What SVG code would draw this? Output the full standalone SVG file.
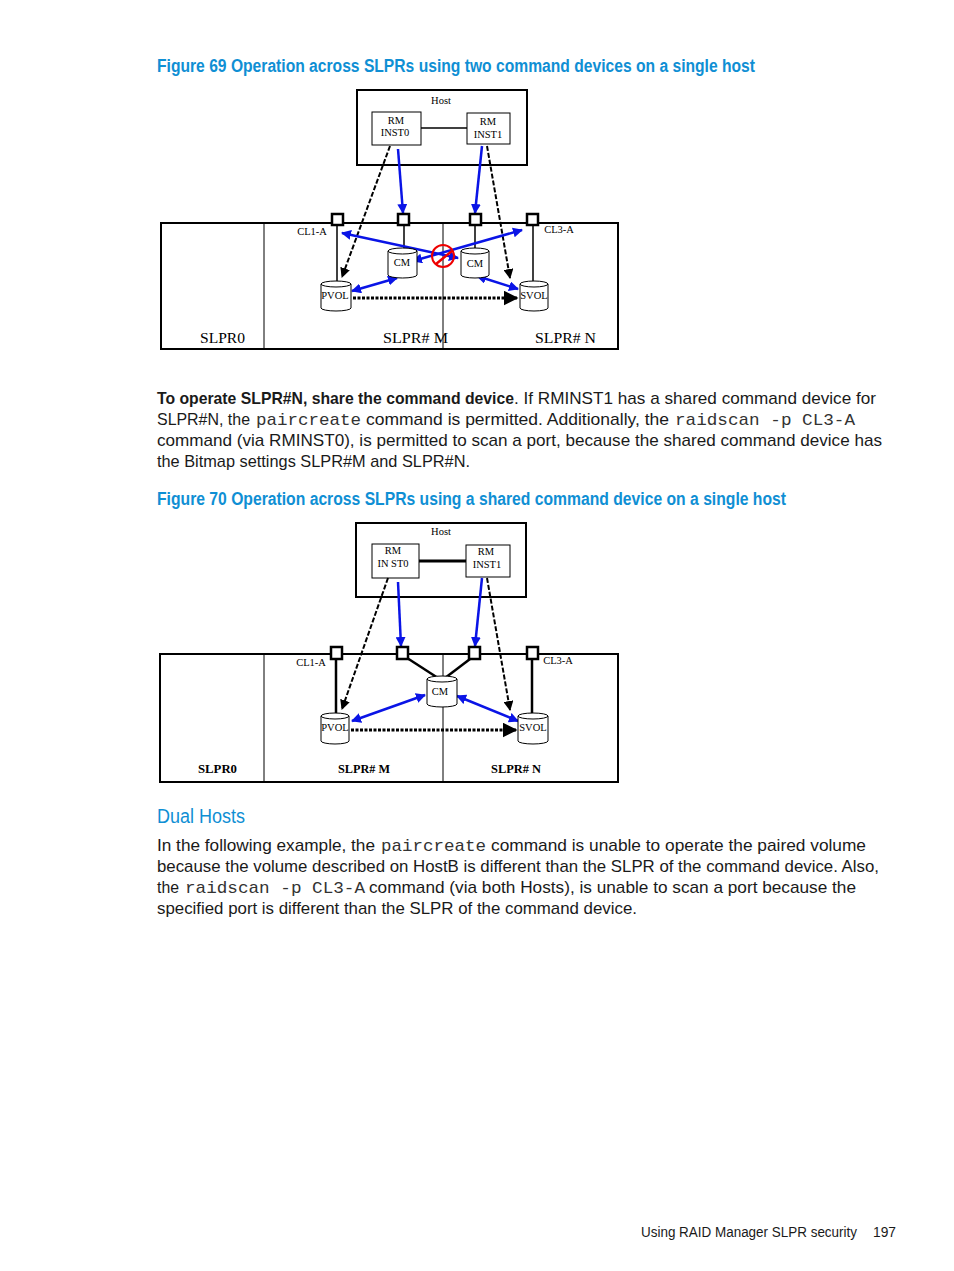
<svg xmlns="http://www.w3.org/2000/svg" width="954" height="1271" viewBox="0 0 954 1271">
<defs>
<style>
.cap{font-family:"Liberation Sans",Arial,sans-serif;font-weight:bold;font-size:18px;fill:#0f8fd4}
.body{font-family:"Liberation Sans",Arial,sans-serif;font-size:17px;fill:#1a1a1a}
.bodyb{font-family:"Liberation Sans",Arial,sans-serif;font-size:17px;font-weight:bold;fill:#1a1a1a}
.mono{font-family:"Liberation Mono","Courier New",monospace;font-size:17px;fill:#333}
.h2{font-family:"Liberation Sans",Arial,sans-serif;font-size:20px;fill:#0f8fd4}
.foot{font-family:"Liberation Sans",Arial,sans-serif;font-size:14px;fill:#1a1a1a}
.s{font-family:"Liberation Serif","Times New Roman",serif;font-size:10.5px;fill:#000;text-anchor:middle}
.sl{font-family:"Liberation Serif","Times New Roman",serif;font-size:15px;fill:#000}
.sl2{font-family:"Liberation Serif","Times New Roman",serif;font-size:12px;font-weight:bold;fill:#000}
.box{fill:#fff;stroke:#000;stroke-width:1}
.hostbox{fill:none;stroke:#000;stroke-width:2}
.frame{fill:none;stroke:#000;stroke-width:2}
.div{stroke:#000;stroke-width:1}
.port{fill:#fff;stroke:#000;stroke-width:2.5}
.cyl{fill:#fff;stroke:#000;stroke-width:1}
.blue{stroke:#0a14e6;stroke-width:2.5;fill:none}
.dash{stroke:#000;stroke-width:2;stroke-dasharray:5 2;fill:none}
.dot{stroke:#000;stroke-width:3;stroke-dasharray:3 1.5;fill:none}
.stem{stroke:#000;stroke-width:1.5}
.stem2{stroke:#000;stroke-width:2.5}
</style>
<marker id="ab" viewBox="0 0 10 10" refX="9" refY="5" markerWidth="4" markerHeight="4" orient="auto-start-reverse"><path d="M0,0 L10,5 L0,10 z" fill="#0a14e6"/></marker>
<marker id="ak" viewBox="0 0 10 10" refX="9" refY="5" markerWidth="5" markerHeight="5" orient="auto"><path d="M0,0 L10,5 L0,10 z" fill="#000"/></marker>
</defs>
<rect width="954" height="1271" fill="#fff"/>

<!-- Captions and text -->
<g id="caption69"><text class="cap" x="157" y="72" textLength="598" lengthAdjust="spacingAndGlyphs">Figure 69 Operation across SLPRs using two command devices on a single host</text></g>

<g id="para1">
<text class="bodyb" x="157" y="404" textLength="357" lengthAdjust="spacingAndGlyphs">To operate SLPR#N, share the command device</text>
<text class="body" x="514" y="404" textLength="362" lengthAdjust="spacingAndGlyphs">. If RMINST1 has a shared command device for</text>
<text class="body" x="157" y="425" textLength="93" lengthAdjust="spacingAndGlyphs">SLPR#N, the</text>
<text class="mono" x="256" y="425" textLength="105" lengthAdjust="spacingAndGlyphs">paircreate</text>
<text class="body" x="366" y="425" textLength="303" lengthAdjust="spacingAndGlyphs">command is permitted. Additionally, the</text>
<text class="mono" x="675" y="425" textLength="180" lengthAdjust="spacingAndGlyphs">raidscan -p CL3-A</text>
<text class="body" x="157" y="446" textLength="725" lengthAdjust="spacingAndGlyphs">command (via RMINST0), is permitted to scan a port, because the shared command device has</text>
<text class="body" x="157" y="467" textLength="313" lengthAdjust="spacingAndGlyphs">the Bitmap settings SLPR#M and SLPR#N.</text>
</g>

<g id="caption70"><text class="cap" x="157" y="505" textLength="629" lengthAdjust="spacingAndGlyphs">Figure 70 Operation across SLPRs using a shared command device on a single host</text></g>

<g id="heading"><text class="h2" x="157" y="823" textLength="88" lengthAdjust="spacingAndGlyphs">Dual Hosts</text></g>

<g id="para2">
<text class="body" x="157" y="851" textLength="218" lengthAdjust="spacingAndGlyphs">In the following example, the</text>
<text class="mono" x="381" y="851" textLength="105" lengthAdjust="spacingAndGlyphs">paircreate</text>
<text class="body" x="491" y="851" textLength="375" lengthAdjust="spacingAndGlyphs">command is unable to operate the paired volume</text>
<text class="body" x="157" y="872" textLength="722" lengthAdjust="spacingAndGlyphs">because the volume described on HostB is different than the SLPR of the command device. Also,</text>
<text class="body" x="157" y="893" textLength="22" lengthAdjust="spacingAndGlyphs">the</text>
<text class="mono" x="185" y="893" textLength="180" lengthAdjust="spacingAndGlyphs">raidscan -p CL3-A</text>
<text class="body" x="369" y="893" textLength="487" lengthAdjust="spacingAndGlyphs">command (via both Hosts), is unable to scan a port because the</text>
<text class="body" x="157" y="914" textLength="480" lengthAdjust="spacingAndGlyphs">specified port is different than the SLPR of the command device.</text>
</g>

<g id="footer">
<text class="foot" x="641" y="1237" textLength="216" lengthAdjust="spacingAndGlyphs">Using RAID Manager SLPR security</text>
<text class="foot" x="873" y="1237" textLength="23" lengthAdjust="spacingAndGlyphs">197</text>
</g>

<!-- ================= FIGURE 69 ================= -->
<g id="f69-host">
<rect class="hostbox" x="357" y="90" width="170" height="75"/>
<text class="s" x="441" y="104">Host</text>
</g>
<g id="f69-inst0">
<rect class="box" x="372" y="112" width="49" height="33"/>
<text class="s" x="396" y="124">RM</text>
<text class="s" x="395" y="136">INST0</text>
</g>
<g id="f69-inst1">
<rect class="box" x="467" y="113" width="43" height="31"/>
<text class="s" x="488" y="125">RM</text>
<text class="s" x="488" y="138">INST1</text>
</g>
<g id="f69-storage">
<rect class="frame" x="161" y="223" width="457" height="126"/>
<line class="div" x1="264" y1="224" x2="264" y2="349"/>
<line class="div" x1="443" y1="224" x2="443" y2="349"/>
<text class="sl" x="200" y="343" textLength="45" lengthAdjust="spacingAndGlyphs">SLPR0</text>
<text class="sl" x="383" y="343" textLength="65" lengthAdjust="spacingAndGlyphs">SLPR# M</text>
<text class="sl" x="535" y="343" textLength="61" lengthAdjust="spacingAndGlyphs">SLPR# N</text>
<text class="s" x="312" y="235">CL1-A</text>
<text class="s" x="559" y="233">CL3-A</text>
</g>

<g id="f69-connectors">
<line x1="421" y1="128" x2="467" y2="128" stroke="#000" stroke-width="1.5"/>
<line class="stem" x1="337" y1="226" x2="337" y2="282"/>
<line class="stem" x1="404" y1="226" x2="404" y2="249"/>
<line class="stem" x1="475" y1="226" x2="475" y2="249"/>
<line class="stem" x1="533" y1="226" x2="533" y2="282"/>
<line class="blue" x1="398" y1="149" x2="403" y2="213" marker-end="url(#ab)"/>
<line class="blue" x1="482" y1="146" x2="475" y2="213" marker-end="url(#ab)"/>
<line class="dash" x1="390" y1="146" x2="342" y2="277" marker-end="url(#ak)"/>
<line class="dash" x1="487" y1="146" x2="510" y2="278" marker-end="url(#ak)"/>
<line class="blue" x1="342" y1="233" x2="458" y2="258" marker-start="url(#ab)" marker-end="url(#ab)"/>
<line class="blue" x1="413" y1="261" x2="522" y2="230" marker-start="url(#ab)" marker-end="url(#ab)"/>
<line class="blue" x1="352" y1="291" x2="397" y2="278" marker-start="url(#ab)" marker-end="url(#ab)"/>
<line class="blue" x1="477" y1="276" x2="518" y2="289" marker-start="url(#ab)" marker-end="url(#ab)"/>
<line class="dot" x1="353" y1="298" x2="517" y2="298" marker-end="url(#ak)"/>
<circle cx="443" cy="256" r="11" fill="none" stroke="#e00" stroke-width="2"/>
<line x1="436" y1="264" x2="452" y2="251" stroke="#e00" stroke-width="2.5"/>
</g>

<g id="f69-ports">
<rect class="port" x="332" y="214" width="11" height="11"/>
<rect class="port" x="398" y="214" width="11" height="11"/>
<rect class="port" x="470" y="214" width="11" height="11"/>
<rect class="port" x="527" y="214" width="11" height="11"/>
</g>

<g id="f69-cm0">
<path class="cyl" d="M388,251 A14.5,3 0 0,1 417,251 V275 A14.5,3 0 0,1 388,275 Z"/>
<path class="cyl" fill="none" d="M388,251 A14.5,3 0 0,0 417,251"/>
<text class="s" x="402" y="266">CM</text>
</g>
<g id="f69-cm1">
<path class="cyl" d="M461,251 A14,3 0 0,1 489,251 V275 A14,3 0 0,1 461,275 Z"/>
<path class="cyl" fill="none" d="M461,251 A14,3 0 0,0 489,251"/>
<text class="s" x="475" y="267">CM</text>
</g>
<g id="f69-pvol">
<path class="cyl" d="M321,284 A15,3 0 0,1 351,284 V308 A15,3 0 0,1 321,308 Z"/>
<path class="cyl" fill="none" d="M321,284 A15,3 0 0,0 351,284"/>
<text class="s" x="335" y="299">PVOL</text>
</g>
<g id="f69-svol">
<path class="cyl" d="M520,284 A14,3 0 0,1 548,284 V308 A14,3 0 0,1 520,308 Z"/>
<path class="cyl" fill="none" d="M520,284 A14,3 0 0,0 548,284"/>
<text class="s" x="534" y="299">SVOL</text>
</g>

<!-- ================= FIGURE 70 ================= -->
<g id="f70-host">
<rect class="hostbox" x="356" y="523" width="170" height="74"/>
<text class="s" x="441" y="535">Host</text>
</g>
<g id="f70-inst0">
<rect class="box" x="372" y="544" width="47" height="34"/>
<text class="s" x="393" y="554">RM</text>
<text class="s" x="393" y="567">IN ST0</text>
</g>
<g id="f70-inst1">
<rect class="box" x="466" y="545" width="44" height="32"/>
<text class="s" x="486" y="555">RM</text>
<text class="s" x="487" y="568">INST1</text>
</g>
<g id="f70-storage">
<rect class="frame" x="160" y="654" width="458" height="128"/>
<line class="div" x1="264" y1="655" x2="264" y2="782"/>
<line class="div" x1="443" y1="655" x2="443" y2="782"/>
<text class="sl2" x="198" y="773" textLength="39" lengthAdjust="spacingAndGlyphs">SLPR0</text>
<text class="sl2" x="338" y="773" textLength="52" lengthAdjust="spacingAndGlyphs">SLPR# M</text>
<text class="sl2" x="491" y="773" textLength="50" lengthAdjust="spacingAndGlyphs">SLPR# N</text>
<text class="s" x="311" y="666">CL1-A</text>
<text class="s" x="558" y="664">CL3-A</text>
</g>

<g id="f70-connectors">
<line x1="419" y1="561" x2="466" y2="561" stroke="#000" stroke-width="3"/>
<line class="stem2" x1="336" y1="659" x2="336" y2="714"/>
<line class="stem2" x1="532" y1="659" x2="532" y2="714"/>
<line class="stem2" x1="404" y1="656" x2="438" y2="678"/>
<line class="stem2" x1="474" y1="656" x2="445" y2="678"/>
<line class="blue" x1="398" y1="582" x2="401" y2="646" marker-end="url(#ab)"/>
<line class="blue" x1="482" y1="578" x2="475" y2="646" marker-end="url(#ab)"/>
<line class="dash" x1="388" y1="578" x2="342" y2="709" marker-end="url(#ak)"/>
<line class="dash" x1="487" y1="578" x2="510" y2="710" marker-end="url(#ak)"/>
<line class="blue" x1="352" y1="721" x2="425" y2="695" marker-start="url(#ab)" marker-end="url(#ab)"/>
<line class="blue" x1="457" y1="696" x2="518" y2="721" marker-start="url(#ab)" marker-end="url(#ab)"/>
<line class="dot" x1="351" y1="730" x2="516" y2="730" marker-end="url(#ak)"/>
</g>

<g id="f70-ports">
<rect class="port" x="331" y="647" width="11" height="12"/>
<rect class="port" x="397" y="647" width="11" height="12"/>
<rect class="port" x="469" y="647" width="11" height="12"/>
<rect class="port" x="527" y="647" width="11" height="12"/>
</g>

<g id="f70-cm">
<path class="cyl" d="M427,679 A15,3 0 0,1 457,679 V704 A15,3 0 0,1 427,704 Z"/>
<path class="cyl" fill="none" d="M427,679 A15,3 0 0,0 457,679"/>
<text class="s" x="440" y="695">CM</text>
</g>
<g id="f70-pvol">
<path class="cyl" d="M321,716 A14,3 0 0,1 349,716 V741 A14,3 0 0,1 321,741 Z"/>
<path class="cyl" fill="none" d="M321,716 A14,3 0 0,0 349,716"/>
<text class="s" x="335" y="731">PVOL</text>
</g>
<g id="f70-svol">
<path class="cyl" d="M518,716 A15,3 0 0,1 548,716 V741 A15,3 0 0,1 518,741 Z"/>
<path class="cyl" fill="none" d="M518,716 A15,3 0 0,0 548,716"/>
<text class="s" x="533" y="731">SVOL</text>
</g>
</svg>
